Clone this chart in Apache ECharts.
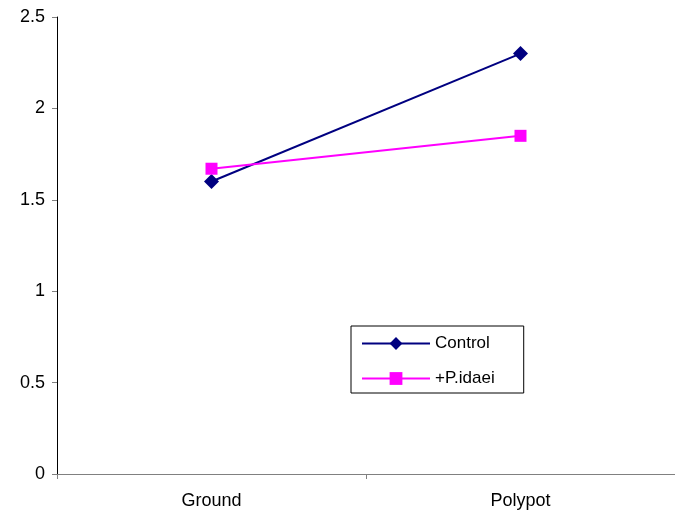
<!DOCTYPE html>
<html><head><meta charset="utf-8">
<script src="https://cdn.jsdelivr.net/npm/echarts@6/dist/echarts.min.js"></script>
<style>html,body{margin:0;padding:0;background:#fff}#c{width:675px;height:514px}</style>
</head><body><div id="c"></div>
<script>
const categories = ['Ground', 'Polypot'];
const controlValues = [1.6, 2.3];
const idaeiValues = [1.67, 1.85];
const seriesNames = ['Control', '+P.idaei'];
const yMin = 0, yMax = 2.5, yStep = 0.5;

const chart = echarts.init(document.getElementById('c'));
const fontFam = '"Liberation Sans", Arial, sans-serif';
chart.setOption({
  animation: false,
  backgroundColor: '#fff',
  grid: { left: 57, right: 0, top: 17, bottom: 40, containLabel: false },
  xAxis: {
    type: 'category', data: categories, boundaryGap: true,
    axisLine: { lineStyle: { color: '#808080', width: 1 } },
    axisTick: { show: true, length: 5, lineStyle: { color: '#808080' } },
    axisLabel: { color: '#000', fontSize: 18, fontFamily: fontFam, margin: 18 },
    splitLine: { show: false }
  },
  yAxis: {
    type: 'value', min: yMin, max: yMax, interval: yStep,
    axisLine: { show: true, lineStyle: { color: '#000', width: 1 } },
    axisTick: { show: true, length: 5, lineStyle: { color: '#808080' } },
    axisLabel: { color: '#000', fontSize: 18, fontFamily: fontFam, margin: 12 },
    splitLine: { show: false }
  },
  legend: {
    orient: 'vertical', left: 351, top: 326,
    borderColor: '#000', borderWidth: 1,
    padding: [9, 29, 6, 10],
    itemGap: 18, itemWidth: 68, itemHeight: 16,
    textStyle: { color: '#000', fontSize: 17, fontFamily: fontFam },
    data: seriesNames
  },
  series: [
    { name: seriesNames[0], type: 'line', data: controlValues,
      symbol: 'diamond', symbolSize: 15,
      lineStyle: { color: '#000080', width: 2 },
      itemStyle: { color: '#000080' } },
    { name: seriesNames[1], type: 'line', data: idaeiValues,
      symbol: 'rect', symbolSize: 12,
      lineStyle: { color: '#FF00FF', width: 2 },
      itemStyle: { color: '#FF00FF' } }
  ]
});
</script></body></html>
